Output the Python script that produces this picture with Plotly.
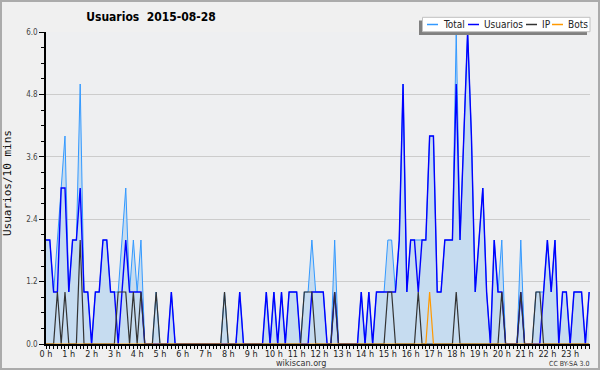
import plotly.graph_objects as go

# ---- data (10-minute slots, 144 per day) ----
hour_labels = [f"{h} h" for h in range(24)]
y_ticks = [0.0, 1.2, 2.4, 3.6, 4.8, 6.0]

total = [
    2, 2, 1, 2, 3, 4, 1, 2, 2, 5, 1, 1,
    0, 1, 1, 2, 2, 1, 1, 1, 2, 3, 1, 2,
    1, 2, 0, 0, 0, 1, 0, 0, 0, 1, 0, 0,
    0, 0, 0, 0, 0, 0, 0, 0, 0, 0, 0, 1,
    0, 0, 0, 1, 0, 0, 0, 0, 0, 0, 1, 0,
    1, 0, 1, 0, 1, 1, 1, 0, 1, 1, 2, 1,
    1, 1, 0, 0, 2, 0, 0, 0, 0, 0, 0, 1,
    0, 1, 0, 1, 1, 1, 2, 2, 1, 2, 5, 1,
    2, 2, 2, 2, 2, 4, 4, 1, 1, 2, 2, 2,
    6, 2, 4, 6, 4, 1, 2, 3, 1, 0, 2, 1,
    2, 0, 0, 0, 0, 2, 0, 0, 0, 1, 1, 1,
    2, 1, 2, 0, 1, 1, 0, 1, 1, 1, 0, 1,
]
usuarios = [
    2, 2, 1, 1, 3, 3, 1, 2, 2, 3, 1, 1,
    0, 1, 1, 2, 2, 1, 1, 0, 1, 2, 1, 1,
    1, 1, 0, 0, 0, 0, 0, 0, 0, 1, 0, 0,
    0, 0, 0, 0, 0, 0, 0, 0, 0, 0, 0, 0,
    0, 0, 0, 1, 0, 0, 0, 0, 0, 0, 1, 0,
    1, 0, 1, 0, 1, 1, 1, 0, 0, 0, 1, 1,
    1, 1, 0, 0, 1, 0, 0, 0, 0, 0, 0, 1,
    0, 1, 0, 1, 1, 1, 1, 1, 1, 2, 5, 1,
    2, 2, 1, 2, 2, 4, 4, 1, 1, 2, 2, 2,
    5, 2, 4, 6, 4, 1, 2, 3, 1, 0, 2, 1,
    1, 0, 0, 0, 0, 1, 0, 0, 0, 0, 0, 1,
    2, 1, 2, 0, 1, 1, 0, 1, 1, 1, 0, 1,
]
ip = [
    0, 0, 0, 1, 0, 1, 0, 0, 0, 2, 0, 0,
    0, 0, 0, 0, 0, 0, 0, 1, 1, 1, 0, 1,
    0, 1, 0, 0, 0, 1, 0, 0, 0, 0, 0, 0,
    0, 0, 0, 0, 0, 0, 0, 0, 0, 0, 0, 1,
    0, 0, 0, 0, 0, 0, 0, 0, 0, 0, 0, 0,
    0, 0, 0, 0, 0, 0, 0, 0, 1, 1, 1, 0,
    0, 0, 0, 0, 1, 0, 0, 0, 0, 0, 0, 0,
    0, 0, 0, 0, 0, 0, 1, 1, 0, 0, 0, 0,
    0, 0, 1, 0, 0, 0, 0, 0, 0, 0, 0, 0,
    1, 0, 0, 0, 0, 0, 0, 0, 0, 0, 0, 0,
    1, 0, 0, 0, 0, 1, 0, 0, 0, 1, 1, 0,
    0, 0, 0, 0, 0, 0, 0, 0, 0, 0, 0, 0,
]
bots = [
    0, 0, 0, 0, 0, 0, 0, 0, 0, 0, 0, 0,
    0, 0, 0, 0, 0, 0, 0, 0, 0, 0, 0, 0,
    0, 0, 0, 0, 0, 0, 0, 0, 0, 0, 0, 0,
    0, 0, 0, 0, 0, 0, 0, 0, 0, 0, 0, 0,
    0, 0, 0, 0, 0, 0, 0, 0, 0, 0, 0, 0,
    0, 0, 0, 0, 0, 0, 0, 0, 0, 0, 0, 0,
    0, 0, 0, 0, 0, 0, 0, 0, 0, 0, 0, 0,
    0, 0, 0, 0, 0, 0, 0, 0, 0, 0, 0, 0,
    0, 0, 0, 0, 0, 1, 0, 0, 0, 0, 0, 0,
    0, 0, 0, 0, 0, 0, 0, 0, 0, 0, 0, 0,
    0, 0, 0, 0, 0, 0, 0, 0, 0, 0, 0, 0,
    0, 0, 0, 0, 0, 0, 0, 0, 0, 0, 0, 0,
]
series_names = ["Total", "Usuarios", "IP", "Bots"]
series_colors = ["#3399ff", "#0000ff", "#333333", "#ff9900"]

hours = [i / 6 for i in range(len(total))]

# ---- geometry (pixels) ----
W, H = 600, 370
L, R, T, B = 46, 10, 32, 26
PW, PH = W - L - R, H - T - B
FONT = "DejaVu Sans Condensed, DejaVu Sans, sans-serif"


def px(xp):
    return (xp - L) / PW


def py(yp):
    return (H - B - yp) / PH


fig = go.Figure()
fig.add_trace(go.Scatter(x=hours, y=total, mode="lines", name="Total",
                         line=dict(color=series_colors[0], width=1),
                         fill="tozeroy", fillcolor="#c6dcf0"))
fig.add_trace(go.Scatter(x=hours, y=usuarios, mode="lines", name="Usuarios",
                         line=dict(color=series_colors[1], width=1.4)))
fig.add_trace(go.Scatter(x=hours, y=ip, mode="lines", name="IP",
                         line=dict(color=series_colors[2], width=1.2)))
fig.add_trace(go.Scatter(x=hours, y=bots, mode="lines", name="Bots",
                         line=dict(color=series_colors[3], width=1.2)))

shapes = []
annotations = []

# outer border
shapes.append(dict(type="rect", xref="paper", yref="paper",
                   x0=px(1), x1=px(599), y0=py(369), y1=py(1),
                   line=dict(color="#ababab", width=2), layer="below"))

# custom legend
shapes.append(dict(type="rect", xref="paper", yref="paper",
                   x0=px(419), x1=px(587), y0=py(35), y1=py(20.5),
                   fillcolor="#808080", line=dict(width=0), layer="above"))
shapes.append(dict(type="rect", xref="paper", yref="paper",
                   x0=px(422.5), x1=px(590), y0=py(31.7), y1=py(17.3),
                   fillcolor="#ffffff", line=dict(color="#c0c0c0", width=1),
                   layer="above"))
leg_line_x = [427, 468, 526, 552]
leg_text_x = [441.5, 482.5, 540.5, 566.5]
for name, col, lx, tx in zip(series_names, series_colors, leg_line_x, leg_text_x):
    shapes.append(dict(type="line", xref="paper", yref="paper",
                       x0=px(lx), x1=px(lx + 11), y0=py(24.5), y1=py(24.5),
                       line=dict(color=col, width=1.5), layer="above"))
    annotations.append(dict(xref="paper", yref="paper", x=px(tx), y=py(24.5),
                            text=name, showarrow=False, xanchor="left",
                            yanchor="middle", borderpad=0,
                            font=dict(family=FONT, size=10, color="#222222")))

# y-axis title
annotations.append(dict(xref="paper", yref="paper", x=px(8), y=py(183),
                        text="Usuarios/10 mins", showarrow=False, textangle=-90,
                        xanchor="center", yanchor="middle",
                        font=dict(family="DejaVu Sans Mono, monospace", size=11,
                                  color="#111111")))
# footer
annotations.append(dict(xref="paper", yref="paper", x=px(300.5), y=py(362.5),
                        text="wikiscan.org", showarrow=False, xanchor="center",
                        yanchor="middle", borderpad=0,
                        font=dict(family=FONT, size=9, color="#333333")))
annotations.append(dict(xref="paper", yref="paper", x=px(590), y=py(363.5),
                        text="CC BY-SA 3.0", showarrow=False, xanchor="right",
                        yanchor="middle", borderpad=0,
                        font=dict(family=FONT, size=7, color="#333333")))

fig.update_layout(
    width=W, height=H,
    margin=dict(l=L, r=R, t=T, b=B),
    paper_bgcolor="#f0f0f0",
    plot_bgcolor="#eeeff1",
    showlegend=False,
    title=dict(text="<b>Usuarios  2015-08-28</b>", x=151 / W, xref="container",
               xanchor="center", y=1 - 17 / H, yref="container", yanchor="middle",
               font=dict(family=FONT, size=12, color="#000000")),
    shapes=shapes,
    annotations=annotations,
    xaxis=dict(range=[0, 23.87], tickmode="array",
               tickvals=list(range(24)), ticktext=hour_labels,
               ticks="outside", ticklen=3, tickcolor="#000000", tickwidth=1,
               ticklabelstandoff=-3,
               showline=True, linecolor="#000000", linewidth=1.5,
               showgrid=False, zeroline=False,
               tickfont=dict(family=FONT, size=9, color="#222222"),
               minor=dict(tick0=0, dtick=1 / 6, ticks="outside", ticklen=3,
                          tickcolor="#000000", tickwidth=1, showgrid=False)),
    yaxis=dict(range=[0, 6], tickmode="array", tickvals=y_ticks,
               ticktext=[f"{v:.1f}" for v in y_ticks],
               ticks="outside", ticklen=5, tickcolor="#000000", tickwidth=1,
               showline=True, linecolor="#000000", linewidth=1.5,
               showgrid=True, gridcolor="#cccccc", gridwidth=1, zeroline=False,
               tickfont=dict(family=FONT, size=8, color="#444444"),
               minor=dict(tick0=0, dtick=0.3, ticks="outside", ticklen=3,
                          tickcolor="#000000", tickwidth=1, showgrid=False)),
)

fig.write_html("out.html",
               config={"displayModeBar": False},
               post_script="document.body.style.margin='0';"
                           "document.body.style.overflow='hidden';")
